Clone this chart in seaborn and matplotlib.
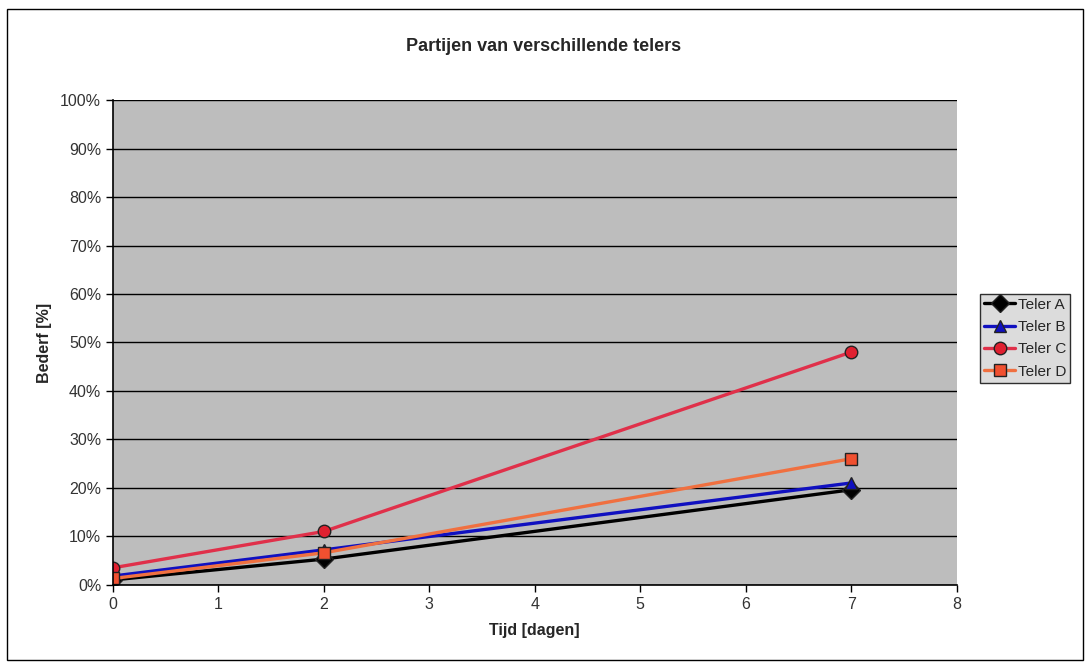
import matplotlib
matplotlib.use("Agg")
import matplotlib.pyplot as plt
import seaborn as sns
import pandas as pd
from matplotlib.ticker import PercentFormatter

sns.set_theme(style="white")
plt.rcParams['font.family'] = ['Liberation Sans', 'DejaVu Sans']

days = [0, 2, 7]
teler_a = [1.0, 5.3, 19.6]
teler_b = [1.8, 7.2, 21.0]
teler_c = [3.5, 11.0, 48.0]
teler_d = [1.3, 6.6, 26.0]
series_names = ["Teler A", "Teler B", "Teler C", "Teler D"]

df = pd.DataFrame({
    "Tijd": days * 4,
    "Bederf": teler_a + teler_b + teler_c + teler_d,
    "Teler": sum([[n] * len(days) for n in series_names], []),
})

line_colors = {"Teler A": "#000000", "Teler B": "#1010c0", "Teler C": "#e0304a", "Teler D": "#f07040"}
marker_face = {"Teler A": "#000000", "Teler B": "#1010c0", "Teler C": "#e02030", "Teler D": "#f05030"}
markers = {"Teler A": "D", "Teler B": "^", "Teler C": "o", "Teler D": "s"}

fig = plt.figure(figsize=(10.87, 6.63), dpi=100)
fig.patch.set_facecolor("white")
ax = fig.add_axes([0.104, 0.118, 0.776, 0.731])
ax.set_facecolor("#bdbdbd")

for name in series_names:
    sub = df[df["Teler"] == name]
    sns.lineplot(data=sub, x="Tijd", y="Bederf", ax=ax, color=line_colors[name],
                 marker=markers[name], markersize=9, markerfacecolor=marker_face[name],
                 markeredgecolor="#222222", markeredgewidth=1.0, linewidth=2.4, label=name)

ax.set_xlim(0, 8)
ax.set_ylim(0, 100)
ax.set_xticks(range(0, 9))
ax.set_yticks(range(0, 101, 10))
ax.yaxis.set_major_formatter(PercentFormatter(decimals=0))
ax.grid(axis="y", color="#000000", linewidth=1.0)
ax.grid(axis="x", visible=False)
ax.set_axisbelow(True)
for s in ["top", "right"]:
    ax.spines[s].set_visible(False)
for s in ["left", "bottom"]:
    ax.spines[s].set_color("#000000")
    ax.spines[s].set_linewidth(1.2)
ax.tick_params(axis="both", direction="out", length=5, width=1, color="#000000",
               labelsize=11.5, bottom=True, left=True)
ax.tick_params(axis="both", labelcolor="#333333")
ax.set_xlabel("Tijd [dagen]", fontsize=11.5, fontweight="bold", labelpad=8)
ax.set_ylabel("Bederf [%]", fontsize=11.5, fontweight="bold", labelpad=6)
fig.text(0.50, 0.93, "Partijen van verschillende telers", ha="center", va="center",
         fontsize=13, fontweight="bold")

leg = ax.legend(loc="center left", frameon=True, fontsize=11, handlelength=2.0, borderpad=0.25,
                labelspacing=0.55, handletextpad=0.2, borderaxespad=0, fancybox=False)
leg.get_frame().set_edgecolor("#000000")
leg.get_frame().set_facecolor("#d4d4d4")
leg.set_bbox_to_anchor((0.902, 0.49), transform=fig.transFigure)

border = plt.Rectangle((0.006, 0.005), 0.99, 0.982, transform=fig.transFigure,
                       fill=False, edgecolor="#000000", linewidth=1.0)
fig.add_artist(border)

fig.savefig("out.png", dpi=100)
